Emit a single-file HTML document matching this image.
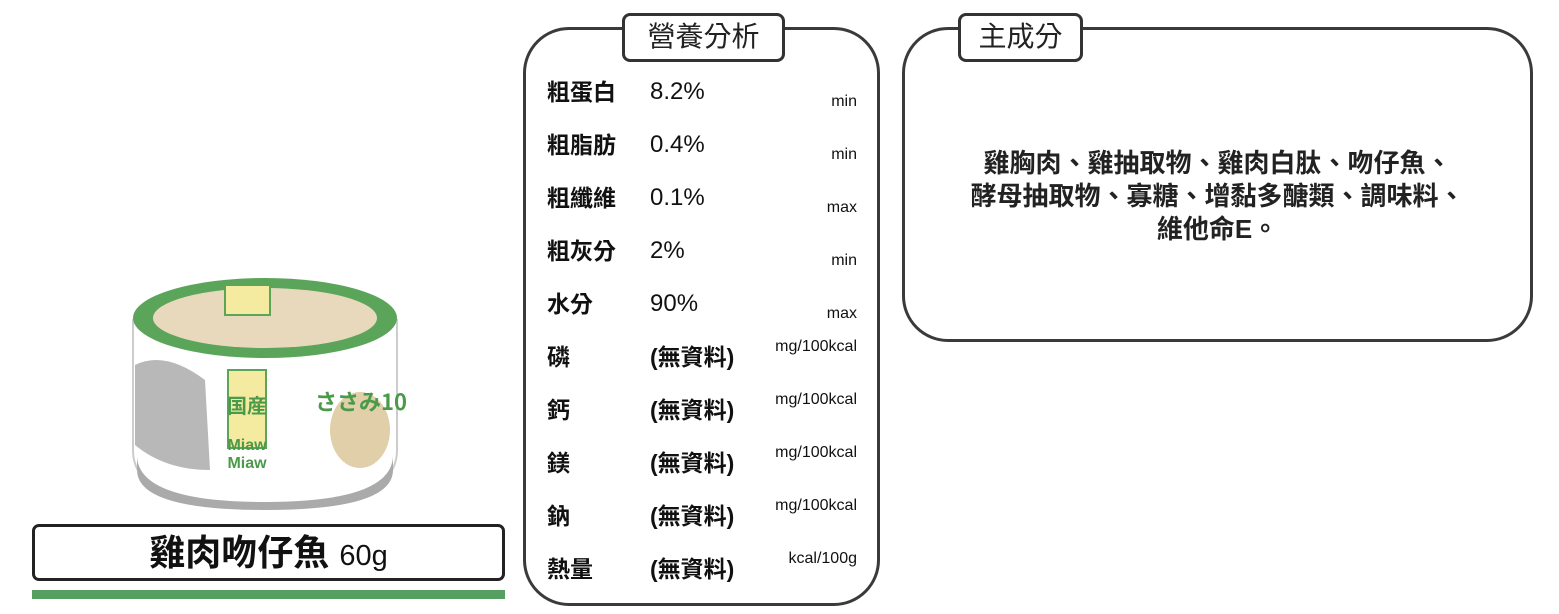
<!DOCTYPE html>
<html><head><meta charset="utf-8"><style>
*{margin:0;padding:0;box-sizing:border-box}
body{width:1559px;height:614px;background:#fff;position:relative;overflow:hidden;font-family:"Liberation Sans","Noto Sans CJK TC",sans-serif;color:#111}
.abs{position:absolute}
.big{border:3px solid #3a3a3a;border-radius:46px;background:#fff}
.tb{border:3px solid #333;border-radius:8px;background:#fff;font-size:28px;text-align:center;line-height:41px;color:#222}
.lab{position:absolute;left:547px;font-size:23px;font-weight:bold;line-height:26px}
.val{position:absolute;left:650px;font-size:24px;line-height:26px}
.unit{position:absolute;right:702px;font-size:16px;line-height:18px}
</style></head><body>
<svg class="abs" style="left:125px;top:270px" width="285" height="245" viewBox="0 0 285 245">
<path d="M8 50 L8 180 Q8 238 140 238 Q272 238 272 180 L272 50 Z" fill="#fff" stroke="#ccc" stroke-width="2"/>
<path d="M12 185 Q12 232 140 232 Q268 232 268 185 L268 200 Q268 240 140 240 Q12 240 12 200 Z" fill="#aaa"/>
<ellipse cx="140" cy="48" rx="132" ry="40" fill="#5aa55a"/>
<ellipse cx="140" cy="48" rx="112" ry="30" fill="#e8d9bd"/>
<rect x="100" y="15" width="45" height="30" fill="#f4eaa0" stroke="#5aa55a" stroke-width="2"/>
<rect x="103" y="100" width="38" height="78" fill="#f4eaa0" stroke="#5aa55a" stroke-width="2"/>
<text x="122" y="143" font-size="20" font-weight="bold" fill="#4a9a4a" text-anchor="middle" font-family="Noto Sans CJK JP">国産</text>
<text x="122" y="180" font-size="16" font-weight="bold" fill="#4a9a4a" text-anchor="middle">Miaw</text>
<text x="122" y="198" font-size="16" font-weight="bold" fill="#4a9a4a" text-anchor="middle">Miaw</text>
<path d="M10 95 Q40 80 80 110 L85 200 Q40 200 10 175 Z" fill="#888" opacity="0.6"/>
<ellipse cx="235" cy="160" rx="30" ry="38" fill="#e0cfa8"/>
<text x="190" y="140" font-size="22" font-weight="bold" fill="#4a9a4a" font-family="Noto Sans CJK JP">ささみ10</text>
</svg>
<div class="abs" style="left:32px;top:524px;width:473px;height:57px;border:3px solid #222;border-radius:7px;text-align:center;font-size:36px;line-height:51px"><b style="font-weight:bold">雞肉吻仔魚</b> <span style="font-size:29px">60g</span></div>
<div class="abs" style="left:32px;top:590px;width:473px;height:9px;background:#55a060"></div>

<div class="abs big" style="left:523px;top:27px;width:357px;height:579px"></div>
<div class="abs tb" style="left:622px;top:13px;width:163px;height:49px">營養分析</div>
<div class="lab" style="top:79px">粗蛋白</div><div class="val" style="top:79px">8.2%</div><div class="unit" style="top:93px">min</div>
<div class="lab" style="top:132px">粗脂肪</div><div class="val" style="top:132px">0.4%</div><div class="unit" style="top:146px">min</div>
<div class="lab" style="top:185px">粗纖維</div><div class="val" style="top:185px">0.1%</div><div class="unit" style="top:199px">max</div>
<div class="lab" style="top:238px">粗灰分</div><div class="val" style="top:238px">2%</div><div class="unit" style="top:252px">min</div>
<div class="lab" style="top:291px">水分</div><div class="val" style="top:291px">90%</div><div class="unit" style="top:305px">max</div>
<div class="lab" style="top:344px">磷</div><div class="val" style="top:344px;font-weight:bold;font-size:23px">(無資料)</div><div class="unit" style="top:338px">mg/100kcal</div>
<div class="lab" style="top:397px">鈣</div><div class="val" style="top:397px;font-weight:bold;font-size:23px">(無資料)</div><div class="unit" style="top:391px">mg/100kcal</div>
<div class="lab" style="top:450px">鎂</div><div class="val" style="top:450px;font-weight:bold;font-size:23px">(無資料)</div><div class="unit" style="top:444px">mg/100kcal</div>
<div class="lab" style="top:503px">鈉</div><div class="val" style="top:503px;font-weight:bold;font-size:23px">(無資料)</div><div class="unit" style="top:497px">mg/100kcal</div>
<div class="lab" style="top:556px">熱量</div><div class="val" style="top:556px;font-weight:bold;font-size:23px">(無資料)</div><div class="unit" style="top:550px">kcal/100g</div>

<div class="abs big" style="left:902px;top:27px;width:631px;height:315px"></div>
<div class="abs tb" style="left:958px;top:13px;width:125px;height:49px">主成分</div>
<div class="abs" style="left:910px;top:147px;width:615px;text-align:center;font-size:26px;font-weight:bold;line-height:33px;color:#222">雞胸肉、雞抽取物、雞肉白肽、吻仔魚、<br>酵母抽取物、寡糖、增黏多醣類、調味料、<br>維他命E。</div>
</body></html>
